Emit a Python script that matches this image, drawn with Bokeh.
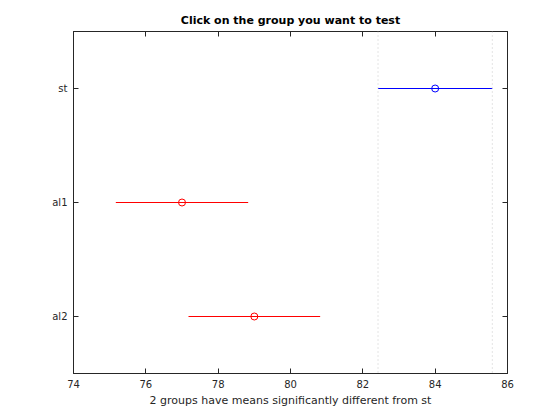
from bokeh.plotting import figure
from bokeh.models import Range1d, FixedTicker, LinearAxis, Span
from bokeh.embed import file_html
from bokeh.resources import INLINE

groups = ["st", "al1", "al2"]
means = [84.0, 77.0, 79.0]
lower = [82.42, 75.17, 77.18]
upper = [85.58, 78.83, 80.82]
colors = ["#0000ff", "#ff0000", "#ff0000"]
x_ticks = [74, 76, 78, 80, 82, 84, 86]

ypos = [i + 1 for i in range(len(groups))]

FONT = "DejaVu Sans"
TXT = "#262626"

p = figure(width=552, height=412, output_backend="svg", toolbar_location=None,
           x_range=Range1d(74, 86), y_range=Range1d(3.5, 0.5),
           min_border_left=73, min_border_right=45, min_border_top=31, min_border_bottom=39,
           x_axis_location=None, y_axis_location=None)
p.title.text = "Click on the group you want to test"
p.title.align = "center"
p.title.text_font = FONT
p.title.text_font_size = "11px"
p.title.text_font_style = "bold"
p.title.text_color = "black"
p.xgrid.visible = False
p.ygrid.visible = False
p.outline_line_color = TXT
p.outline_line_width = 1
p.background_fill_color = "white"
p.border_fill_color = "white"

def style(ax, labels=True):
    ax.major_tick_in = 5
    ax.major_tick_out = 0
    ax.minor_tick_line_color = None
    ax.axis_line_color = TXT
    ax.major_tick_line_color = TXT
    ax.major_label_text_font = FONT
    ax.major_label_text_font_size = "10px"
    ax.major_label_text_color = TXT
    if not labels:
        ax.major_label_text_font_size = "0px"
        ax.major_label_text_color = None

xb = LinearAxis(ticker=FixedTicker(ticks=x_ticks))
style(xb)
xb.major_label_standoff = 6
xb.axis_label = "2 groups have means significantly different from st"
xb.axis_label_text_font = FONT
xb.axis_label_text_font_size = "11px"
xb.axis_label_text_font_style = "normal"
xb.axis_label_text_color = TXT
xb.axis_label_standoff = 3
p.add_layout(xb, "below")

xt = LinearAxis(ticker=FixedTicker(ticks=x_ticks))
style(xt, labels=False)
p.add_layout(xt, "above")

yl = LinearAxis(ticker=FixedTicker(ticks=ypos))
yl.major_label_overrides = {y: g for y, g in zip(ypos, groups)}
style(yl)
yl.major_label_standoff = 6
p.add_layout(yl, "left")

yr = LinearAxis(ticker=FixedTicker(ticks=ypos))
style(yr, labels=False)
p.add_layout(yr, "right")

for v in (lower[0], upper[0]):
    p.add_layout(Span(location=v, dimension="height", line_color="#c8c8c8",
                      line_dash="1 3", line_width=1))

for y, m, lo, hi, c in zip(ypos, means, lower, upper, colors):
    p.line(x=[lo, hi], y=[y, y], line_color=c, line_width=1)
    p.scatter(x=[m], y=[y], marker="circle", size=7, fill_color=None,
              line_color=c, line_width=1)

open("out.html", "w").write(file_html(p, INLINE))
